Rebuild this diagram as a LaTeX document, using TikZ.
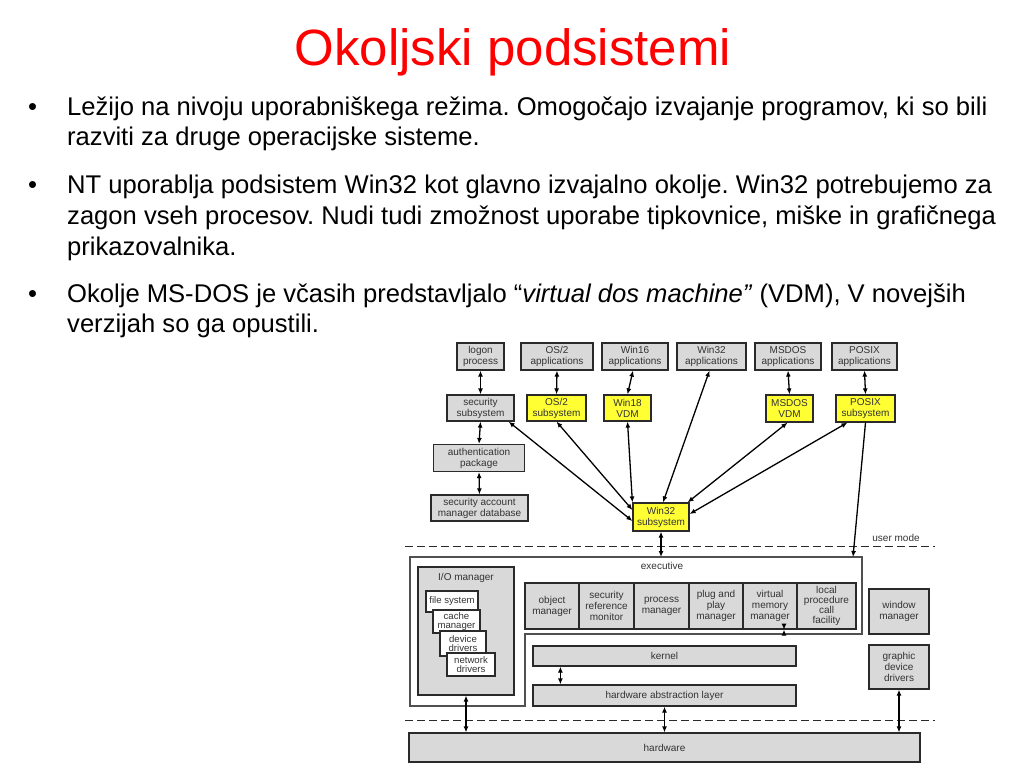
\documentclass[tikz,border=0pt]{standalone}
\usepackage{fontspec}
\setmainfont{Liberation Sans}
\usetikzlibrary{arrows.meta,calc}
\definecolor{boxgray}{HTML}{D9D9D9}
\definecolor{boxyellow}{HTML}{FFFF33}
\definecolor{edge}{HTML}{2A2A2A}
\definecolor{frameedge}{HTML}{505050}
\definecolor{txt}{HTML}{333333}
\definecolor{titlered}{HTML}{FF0000}
\frenchspacing
\begin{document}
\begin{tikzpicture}[x=1pt,y=-1pt,
  box/.style={draw=edge, line width=1.2pt, inner sep=0pt, align=center, text=txt, font=\fontsize{10}{11}\selectfont},
  gbox/.style={box, fill=boxgray},
  ybox/.style={box, fill=boxyellow},
  wbox/.style={box, fill=white, font=\fontsize{9.6}{9.8}\selectfont},
  wh/.style 2 args={minimum width=#1pt, minimum height=#2pt},
  link/.style={line width=1.3pt, {Latex[length=6pt,width=5pt]}-{Latex[length=6pt,width=5pt]}},
  onelink/.style={line width=1.3pt, -{Latex[length=6pt,width=5pt]}},
  modeline/.style={dash pattern=on 8pt off 4pt, line width=1pt, draw=edge},
  btext/.style={anchor=base west, inner sep=0pt, font=\fontsize{25.6}{30}\selectfont},
  lbl/.style={inner sep=0pt, text=txt, font=\fontsize{10}{11}\selectfont},
]
\useasboundingbox[fill=white] (0,0) rectangle (1024,768);

% title
\node[anchor=base, inner sep=0pt, text=titlered, font=\fontsize{51}{60}\selectfont] (title) at (513,65.5) {Okoljski podsistemi};

% bullets
\node[btext] (b1) at (28,115) {•};
\node[btext] (t11) at (67,115) {Ležijo na nivoju uporabniškega režima. Omogočajo izvajanje programov, ki so bili};
\node[btext] (t12) at (67,145) {razviti za druge operacijske sisteme.};
\node[btext] (b2) at (28,193) {•};
\node[btext] (t21) at (67,193) {NT uporablja podsistem Win32 kot glavno izvajalno okolje. Win32 potrebujemo za};
\node[btext] (t22) at (67,224) {zagon vseh procesov. Nudi tudi zmožnost uporabe tipkovnice, miške in grafičnega};
\node[btext] (t23) at (67,255) {prikazovalnika.};
\node[btext] (b3) at (28,302) {•};
\node[btext] (t31) at (67,302) {Okolje MS-DOS je včasih predstavljalo “\textit{virtual dos machine”} (VDM), V novejših};
\node[btext] (t32) at (67,332) {verzijah so ga opustili.};

% mode lines
\coordinate (um1) at (405,546);
\coordinate (um2) at (935,546);
\coordinate (km1) at (405,720);
\coordinate (km2) at (935,720);
\draw[modeline] (um1) -- (um2);
\draw[modeline] (km1) -- (km2);
\node[lbl] (usermode) at (896,538) {user mode};

% top row
\node[gbox, wh={47}{27}] (logon) at (480.5,356.5) {logon\\process};
\node[gbox, wh={72}{27}] (os2app) at (557,356.5) {OS/2\\applications};
\node[gbox, wh={66}{27}] (win16app) at (635,356.5) {Win16\\applications};
\node[gbox, wh={69}{27}] (win32app) at (711.5,356.5) {Win32\\applications};
\node[gbox, wh={66}{27}] (msdosapp) at (788,356.5) {MSDOS\\applications};
\node[gbox, wh={65}{27}] (posixapp) at (864.5,356.5) {POSIX\\applications};

% subsystems
\node[gbox, wh={67}{26}] (secsub) at (480.5,408) {security\\subsystem};
\node[ybox, wh={59}{26}] (os2sub) at (556.5,408) {OS/2\\subsystem};
\node[ybox, wh={47}{26}] (win18) at (627.5,408) {Win18\\VDM};
\node[ybox, wh={47}{27}] (msdosvdm) at (789.5,408.5) {MSDOS\\VDM};
\node[ybox, wh={59}{27}] (posixsub) at (865.5,408.5) {POSIX\\subsystem};
\node[gbox, wh={91}{27}] (auth) at (479,458) {authentication\\package};
\node[gbox, wh={97}{26}] (sam) at (479.5,508) {security account\\manager database};
\node[ybox, wh={56}{28}] (win32sub) at (661,517) {Win32\\subsystem};

% executive frame
\draw[line width=1.2pt, draw=frameedge, fill=white] (410,557) -- (862,557) -- (862,634) -- (525,634) -- (525,706) -- (410,706) -- cycle;
\node[lbl] (exec) at (662,566) {executive};
\coordinate (execW) at (661,557);
\coordinate (execP) at (853,557);

% I/O manager
\node[gbox, wh={96}{128}] (iomgr) at (466,631) {};
\node[lbl] (iolbl) at (466,578) {I/O manager};
\node[wbox, wh={52}{21}] (fs) at (452,601.5) {file system};
\node[wbox, wh={47}{23}] (cache) at (456.5,621.5) {cache\\manager};
\node[wbox, wh={46}{25}] (dev) at (463,643.5) {device\\drivers};
\node[wbox, wh={48}{23}] (net) at (471,664.5) {network\\drivers};

% managers
\node[gbox, wh={54}{46}] (obj) at (552,606) {object\\manager};
\node[gbox, wh={55}{46}] (srm) at (606.5,606) {security\\reference\\monitor};
\node[gbox, wh={55}{46}] (proc) at (661.5,606) {process\\manager};
\node[gbox, wh={54}{46}] (pnp) at (716,606) {plug and\\play\\manager};
\node[gbox, wh={54}{46}] (vmm) at (770,606) {virtual\\memory\\manager};
\node[gbox, wh={59}{46}, font=\fontsize{10}{9.8}\selectfont] (lpc) at (826.5,606) {local\\procedure\\call\\facility};

\node[gbox, wh={263}{20}] (kernel) at (664.5,656) {kernel};
\node[gbox, wh={263}{21}] (hal) at (664.5,695.5) {hardware abstraction layer};
\node[gbox, wh={511}{29}] (hw) at (664.5,747.5) {hardware};
\node[gbox, wh={60}{45}] (winmgr) at (899,611.5) {window\\manager};
\node[gbox, wh={60}{44}] (gdd) at (899,667) {graphic\\device\\drivers};

% connectors
\draw[link] (logon.south) -- (secsub.north);
\draw[link] (os2app.south) -- (os2sub.north);
\draw[link] ($(win16app.south)+(-2,0)$) -- (win18.north);
\draw[link] (msdosapp.south) -- (msdosvdm.north);
\draw[link] (posixapp.south) -- (posixsub.north);
\draw[link] (secsub.south) -- (auth.north);
\draw[link] (auth.south) -- (sam.north);
\draw[link] ($(secsub.south east)+(-6,0)$) -- ($(win32sub.west)+(0,4)$);
\draw[link] (os2sub.south) -- ($(win32sub.west)+(0,-7)$);
\draw[link] (win18.south) -- (win32sub.north west);
\draw[link] ($(win32sub.north)+(2,0)$) -- ($(win32app.south)+(-2,0)$);
\draw[link] ($(msdosvdm.south)+(-2,0)$) -- ($(win32sub.north east)+(-2,0)$);
\draw[link] ($(posixsub.south west)+(12,0)$) -- ($(win32sub.east)+(0,-3)$);
\draw[onelink] (posixsub.south) -- (execP);
\draw[link] (win32sub.south) -- (execW);
\draw[link] ($(kernel.south west)+(28,0)$) -- ($(hal.north west)+(28,0)$);
\draw[link] (hal.south) -- (hal.south |- hw.north);
\draw[link] (iomgr.south) -- (iomgr.south |- hw.north);
\draw[link] ($(vmm.south)+(14,0)$) -- ($(vmm.south)+(14,0)$ |- hw.north);
\draw[link] (gdd.south) -- (gdd.south |- hw.north);
\end{tikzpicture}
\end{document}
